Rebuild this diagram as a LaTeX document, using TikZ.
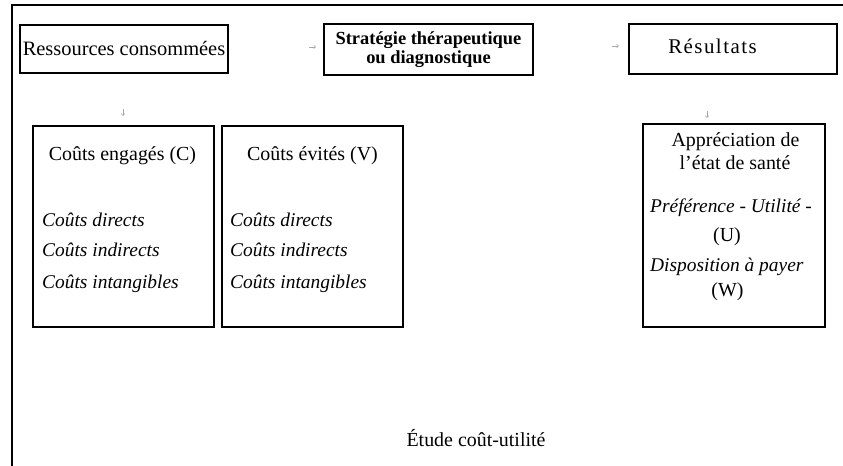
\documentclass[tikz,border=0pt]{standalone}
\usepackage{fontspec}
\setmainfont{Liberation Serif}
\newfontfamily\spacedfont[LetterSpace=7]{Liberation Serif}
\usetikzlibrary{arrows.meta}

\begin{document}
\begin{tikzpicture}[x=1bp,y=-1bp,
  frame/.style={line width=1.4pt},
  box/.style={draw, line width=1.3pt, inner sep=0pt},
  txt/.style={anchor=base, inner sep=0pt, font=\fontsize{20}{24}\selectfont},
  itx/.style={anchor=base west, inner sep=0pt, font=\fontsize{19.5}{24}\selectfont\itshape},
  faint/.style={draw=black!35, line width=0.5pt, -{Straight Barb[length=2pt,width=3.5pt]}}
]
\useasboundingbox (0,0) rectangle (843,466);

% open outer frame: top edge and left edge only
\coordinate (fTR) at (843,5);
\coordinate (fTL) at (12,5);
\coordinate (fBL) at (12,466);
\draw[frame] (fTR) -- (fTL) -- (fBL);

% top row
\node[box, minimum width=208bp, minimum height=48bp,
      font=\fontsize{20.5}{24}\selectfont] (res) at (124,49) {Ressources consommées};
\node[box, minimum width=209bp, minimum height=51bp, align=center,
      font=\fontsize{18.5}{19}\selectfont\bfseries] (strat) at (428.5,49.5)
      {Stratégie thérapeutique\\ou diagnostique};
\node[box, minimum width=208bp, minimum height=50bp] (resu) at (733,49) {};
\node[txt, font=\fontsize{21}{24}\selectfont] (resuT) at (712.5,54) {\spacedfont Résultats};

% faint arrow remnants
\coordinate (m1a) at (309,47); \coordinate (m1b) at (316,47);
\coordinate (m2a) at (612,46); \coordinate (m2b) at (619,46);
\coordinate (m3a) at (123,109); \coordinate (m3b) at (123,116);
\coordinate (m4a) at (707,111); \coordinate (m4b) at (707,118);
\draw[faint] (m1a) -- (m1b);
\draw[faint] (m2a) -- (m2b);
\draw[faint] (m3a) -- (m3b);
\draw[faint] (m4a) -- (m4b);

% cost boxes
\node[box, minimum width=181bp, minimum height=201bp] (ce) at (123.5,226.5) {};
\node[box, minimum width=181bp, minimum height=201bp] (cv) at (312.5,226.5) {};
\node[box, minimum width=182bp, minimum height=203bp] (app) at (734,225.5) {};

\node[txt] (ceT) at (122.5,161) {Coûts engagés (C)};
\node[itx] (ce1) at (42,227) {Coûts directs};
\node[itx] (ce2) at (42,257) {Coûts indirects};
\node[itx] (ce3) at (42,289) {Coûts intangibles};

\node[txt] (cvT) at (312.5,161) {Coûts évités (V)};
\node[itx] (cv1) at (230,227) {Coûts directs};
\node[itx] (cv2) at (230,257) {Coûts indirects};
\node[itx] (cv3) at (230,289) {Coûts intangibles};

% health-state appraisal
\node[txt] (appT1) at (735.5,147) {Appréciation de};
\node[txt] (appT2) at (735,170) {l’état de santé};
\node[itx] (app1) at (650,213) {Préférence - Utilité -};
\node[txt] (app2) at (727,242) {(U)};
\node[itx] (app3) at (650,272) {Disposition à payer};
\node[txt] (app4) at (727.5,297) {(W)};

% caption
\node[txt] (cap) at (476,446) {Étude coût-utilité};
\end{tikzpicture}
\end{document}
